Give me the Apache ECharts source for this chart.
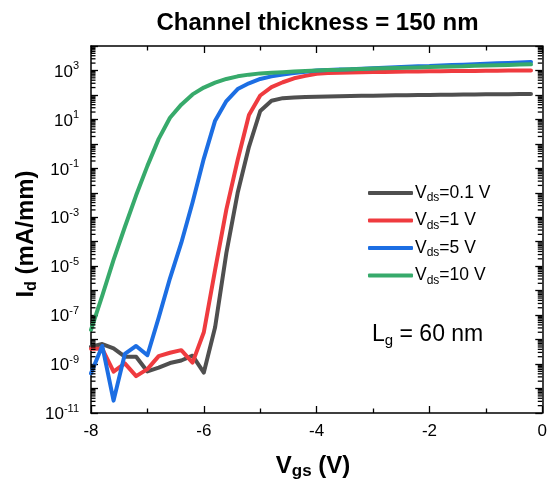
<!DOCTYPE html>
<html>
<head>
<meta charset="utf-8">
<script src="https://cdn.jsdelivr.net/npm/echarts@6/dist/echarts.min.js"></script>
<style>
  html, body { margin: 0; padding: 0; background: #ffffff; }
  #chart { width: 550px; height: 488px; }
</style>
</head>
<body>
<div id="chart"></div>
<script>
// Gate voltage sweep (V)
const vgs = [-8, -7.8, -7.6, -7.4, -7.2, -7, -6.8, -6.6, -6.4, -6.2,
             -6, -5.8, -5.6, -5.4, -5.2, -5, -4.8, -4.6, -4.4, -4.2,
             -4, -3.8, -3.6, -3.4, -3.2, -3, -2.8, -2.6, -2.4, -2.2,
             -2, -1.8, -1.6, -1.4, -1.2, -1, -0.8, -0.6, -0.4, -0.2];

// Drain current I_d (mA/mm) for each drain bias
const idVds01 = [5.1e-9, 6.6e-9, 4.4e-9, 2.0e-9, 2.0e-9, 5.0e-10, 7.1e-10, 1.1e-9, 1.4e-9, 2.2e-9,
                 4.5e-10, 3.2e-8, 3.5e-5, 1.0e-2, 0.76, 22, 58, 74, 79, 83,
                 85, 87, 89, 91, 93, 93, 95, 98, 98, 100,
                 100, 102, 102, 105, 105, 107, 107, 107, 110, 110];
const idVds1 = [4.2e-9, 4.2e-9, 4.9e-10, 1.07e-9, 3.2e-10, 6.2e-10, 2.1e-9, 2.9e-9, 3.7e-9, 1.15e-9,
                2.0e-8, 7.1e-6, 2.1e-3, 0.22, 15, 95, 210, 330, 480, 600,
                740, 780, 810, 830, 850, 860, 870, 890, 900, 910,
                920, 930, 940, 950, 960, 970, 980, 990, 1000, 1000];
const idVds5 = [4.2e-10, 5.5e-9, 3.2e-11, 2.6e-9, 5.5e-9, 2.3e-9, 7.9e-8, 3.2e-6, 8.9e-5, 4.0e-3,
                0.25, 8.9, 56, 174, 300, 450, 575, 690, 790, 890,
                1000, 1050, 1100, 1120, 1170, 1230, 1290, 1350, 1410, 1480,
                1510, 1580, 1660, 1700, 1780, 1860, 1950, 2040, 2140, 2240];
const idVds10 = [2.5e-8, 6.3e-7, 1.8e-5, 4.0e-4, 7.9e-3, 0.126, 1.6, 11.7, 40, 105,
                 200, 316, 450, 575, 675, 760, 810, 850, 910, 955,
                 1000, 1050, 1070, 1120, 1150, 1200, 1230, 1260, 1290, 1320,
                 1380, 1410, 1450, 1480, 1550, 1580, 1620, 1660, 1740, 1780];

const seriesNames = ['Vds=0.1 V', 'Vds=1 V', 'Vds=5 V', 'Vds=10 V'];
const seriesBias = ['0.1 V', '1 V', '5 V', '10 V'];
const seriesData = [idVds01, idVds1, idVds5, idVds10];
const seriesColors = ['#4f4f4f', '#ef3b3f', '#1c6ee3', '#37aa6b'];

// Axis ranges and tick labels
const xTicks = [-8, -6, -4, -2, 0];
const yMinExp = -11;
const yMaxExp = 4;
const yLabelExps = [-11, -9, -7, -5, -3, -1, 1, 3];

const FONT = '"Liberation Sans", Arial, Helvetica, sans-serif';

// Log-spaced minor tick positions (2..9 within each decade), in exponent units
const minorTickExps = [];
for (let n = yMinExp; n < yMaxExp; n++) {
  for (let k = 2; k <= 9; k++) minorTickExps.push(n + Math.log10(k));
}

const chart = echarts.init(document.getElementById('chart'), null, { renderer: 'canvas' });

const lineSeries = seriesData.map((arr, i) => ({
  name: seriesNames[i],
  type: 'line',
  xAxisIndex: 0,
  yAxisIndex: 0,
  data: vgs.map((v, j) => [v, Math.log10(arr[j])]),
  showSymbol: false,
  symbol: 'none',
  smooth: false,
  lineStyle: { width: 4, color: seriesColors[i], cap: 'round', join: 'round' },
  itemStyle: { color: seriesColors[i] },
  z: 3 + i,
  silent: true
}));

// Short inward marks for the log minor ticks on the left and right frame edges
function minorTickMarks(xEdge, offset) {
  return {
    type: 'scatter',
    xAxisIndex: 0,
    yAxisIndex: 0,
    silent: true,
    clip: false,
    z: 10,
    symbol: 'rect',
    symbolSize: [4.5, 1.3],
    symbolOffset: [offset, 0],
    itemStyle: { color: '#000', opacity: 1 },
    data: minorTickExps.map(e => [xEdge, e])
  };
}

const axisLineStyle = { show: true, onZero: false, lineStyle: { color: '#000', width: 1.5 } };

function xAxisBase(pos, showLabel) {
  return {
    type: 'value',
    position: pos,
    min: xTicks[0],
    max: xTicks[xTicks.length - 1],
    interval: 2,
    axisLine: axisLineStyle,
    axisTick: { show: true, inside: true, length: 7, lineStyle: { color: '#000', width: 1.3 } },
    minorTick: { show: true, splitNumber: 2, length: 4.5, lineStyle: { color: '#000', width: 1.3 } },
    splitLine: { show: false },
    minorSplitLine: { show: false },
    axisLabel: {
      show: showLabel,
      fontFamily: FONT,
      fontSize: 17,
      color: '#000',
      margin: 10
    }
  };
}

function yAxisBase(pos, showLabel) {
  return {
    type: 'value',
    position: pos,
    min: yMinExp,
    max: yMaxExp,
    interval: 1,
    axisLine: axisLineStyle,
    axisTick: { show: true, inside: true, length: 7, lineStyle: { color: '#000', width: 1.3 } },
    splitLine: { show: false },
    axisLabel: {
      show: showLabel,
      margin: 12,
      formatter: function (v) {
        const e = Math.round(v);
        if (yLabelExps.indexOf(e) < 0) return '';
        return '{b|10}{p|' + e + '}';
      },
      rich: {
        b: { fontFamily: FONT, fontSize: 17, color: '#000', lineHeight: 20, verticalAlign: 'bottom' },
        p: { fontFamily: FONT, fontSize: 11, color: '#000', lineHeight: 12, verticalAlign: 'top' }
      }
    }
  };
}

const option = {
  animation: false,
  backgroundColor: '#ffffff',
  grid: { left: 91, right: 7, top: 46, bottom: 75, containLabel: false },
  xAxis: [xAxisBase('bottom', true), xAxisBase('top', false)],
  yAxis: [yAxisBase('left', true), yAxisBase('right', false)],
  legend: {
    data: seriesNames,
    orient: 'vertical',
    left: 368,
    top: 184,
    padding: 0,
    icon: 'roundRect',
    itemWidth: 45,
    itemHeight: 4,
    itemGap: 7.5,
    selectedMode: false,
    formatter: function (name) {
      const i = seriesNames.indexOf(name);
      return '{n|V}{s|ds}{n|=' + seriesBias[i] + '}';
    },
    textStyle: {
      padding: [0, 0, 0, -3],
      rich: {
        n: { fontFamily: FONT, fontSize: 17.5, color: '#000', lineHeight: 22, verticalAlign: 'middle' },
        s: { fontFamily: FONT, fontSize: 12, color: '#000', lineHeight: 12, verticalAlign: 'bottom' }
      }
    }
  },
  graphic: [
    {
      type: 'text',
      x: 317.5, y: 23,
      style: {
        text: 'Channel thickness = 150 nm',
        font: 'bold 24px ' + FONT,
        fill: '#000',
        align: 'center',
        verticalAlign: 'middle'
      }
    },
    {
      type: 'text',
      x: 26, y: 234,
      rotation: Math.PI / 2,
      style: {
        text: '{b|I}{s|d}{b| (mA/mm)}',
        align: 'center',
        verticalAlign: 'middle',
        rich: {
          b: { fontFamily: FONT, fontWeight: 'bold', fontSize: 24, fill: '#000', lineHeight: 28, verticalAlign: 'middle' },
          s: { fontFamily: FONT, fontWeight: 'bold', fontSize: 16, fill: '#000', lineHeight: 16, verticalAlign: 'bottom' }
        }
      }
    },
    {
      type: 'text',
      x: 313, y: 466,
      style: {
        text: '{b|V}{s|gs}{b| (V)}',
        align: 'center',
        verticalAlign: 'middle',
        rich: {
          b: { fontFamily: FONT, fontWeight: 'bold', fontSize: 24, fill: '#000', lineHeight: 28, verticalAlign: 'middle' },
          s: { fontFamily: FONT, fontWeight: 'bold', fontSize: 17, fill: '#000', lineHeight: 17, verticalAlign: 'bottom' }
        }
      }
    },
    {
      type: 'text',
      x: 372, y: 335,
      style: {
        text: '{n|L}{s|g}{n| = 60 nm}',
        align: 'left',
        verticalAlign: 'middle',
        rich: {
          n: { fontFamily: FONT, fontSize: 23, fill: '#000', lineHeight: 27, verticalAlign: 'middle' },
          s: { fontFamily: FONT, fontSize: 15, fill: '#000', lineHeight: 15, verticalAlign: 'bottom' }
        }
      }
    }
  ],
  series: lineSeries.concat([minorTickMarks(xTicks[0], 2.25), minorTickMarks(xTicks[xTicks.length - 1], -2.25)])
};

chart.setOption(option);
</script>
</body>
</html>
